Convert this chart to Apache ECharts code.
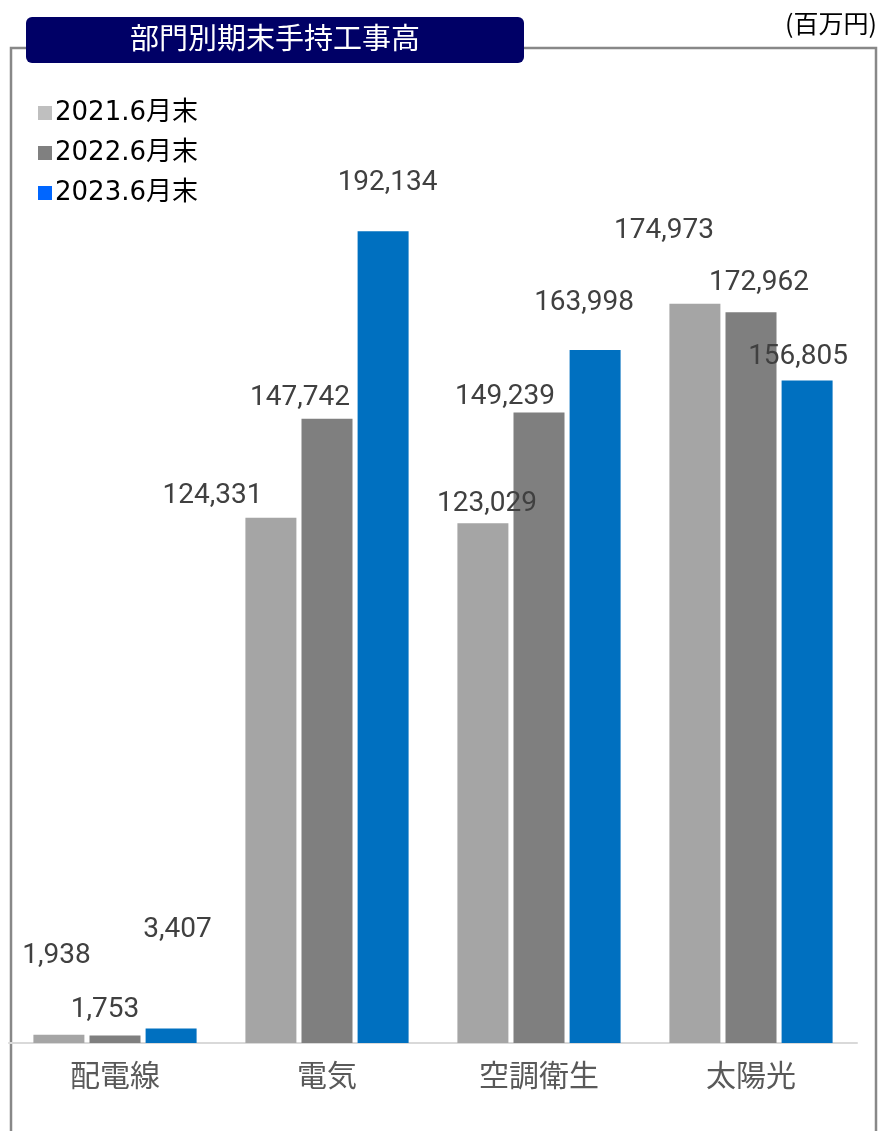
<!DOCTYPE html>
<html>
<head>
<meta charset="utf-8">
<script src="https://cdn.jsdelivr.net/npm/echarts@6/dist/echarts.min.js"></script>
<style>
html,body{margin:0;padding:0;background:#fff;}
#chart{width:881px;height:1131px;}
</style>
</head>
<body>
<div id="chart"></div>
<script>
// ---- data ----
const categories = ['配電線', '電気', '空調衛生', '太陽光'];
const seriesNames = ['2021.6月末', '2022.6月末', '2023.6月末'];
const values2021 = [1938, 124331, 123029, 174973];
const values2022 = [1753, 147742, 149239, 172962];
const values2023 = [3407, 192134, 163998, 156805];
const titleText = '部門別期末手持工事高';
const unitText = '(百万円)';

// ---- style config (label placement as in reference) ----
const barColors = ['#a5a5a5', '#7f7f7f', '#0070c0'];
const legendColors = ['#bfbfbf', '#808080', '#0066ff'];
const labelOffsets = [
  [[-2.5, -65], [-58.5, -8], [4, -5], [-31, -59]],
  [[-10, -12], [-27, -7], [-34, -1], [8, -15]],
  [[6.5, -85], [4.5, -34], [-11, -33], [-9, -9]]
];

const allValues = [values2021, values2022, values2023];
const chart = echarts.init(document.getElementById('chart'), null, {renderer: 'canvas'});

const series = allValues.map((vals, si) => ({
  name: seriesNames[si],
  type: 'bar',
  barWidth: 51,
  barGap: '10%',
  itemStyle: {color: barColors[si]},
  label: {
    show: true,
    position: 'top',
    distance: 0,
    color: '#404040',
    fontFamily: 'Roboto',
    fontSize: 28,
    formatter: p => p.value.toLocaleString('en-US')
  },
  data: vals.map((v, ci) => ({
    value: v,
    label: {offset: labelOffsets[si][ci]}
  })),
  z: 3
}));

chart.setOption({
  backgroundColor: '#ffffff',
  animation: false,
  grid: {left: 9, right: 24, top: 198, bottom: 88, containLabel: false},
  legend: {
    orient: 'vertical',
    left: 33,
    top: 95,
    itemWidth: 14,
    itemHeight: 14,
    itemGap: 14,
    icon: 'rect',
    textStyle: {
      fontFamily: '"DejaVu Sans", "Noto Sans CJK JP", sans-serif',
      fontSize: 26,
      color: '#000000',
      padding: [0, 0, 0, -2]
    },
    data: seriesNames.map((n, i) => ({name: n, itemStyle: {color: legendColors[i]}}))
  },
  xAxis: {
    type: 'category',
    data: categories,
    axisLine: {show: true, lineStyle: {color: '#d9d9d9', width: 2}},
    axisTick: {show: false},
    axisLabel: {
      color: '#595959',
      fontFamily: '"Noto Sans CJK JP", sans-serif',
      fontSize: 30,
      margin: 17
    }
  },
  yAxis: {
    type: 'value',
    min: 0,
    max: 200000,
    show: false,
    splitLine: {show: false}
  },
  graphic: [
    {
      type: 'rect',
      z: 0,
      shape: {x: 11, y: 48, width: 865, height: 1120},
      style: {fill: 'none', stroke: '#888888', lineWidth: 2.5}
    },
    {
      type: 'rect',
      z: 10,
      shape: {x: 26, y: 17, width: 498, height: 46, r: 6},
      style: {fill: '#000066'}
    },
    {
      type: 'text',
      z: 11,
      x: 275,
      y: 38,
      style: {
        text: titleText,
        fill: '#ffffff',
        font: '29px "Noto Sans CJK JP", sans-serif',
        align: 'center',
        verticalAlign: 'middle'
      }
    },
    {
      type: 'text',
      z: 11,
      x: 877,
      y: 23,
      style: {
        text: unitText,
        fill: '#000000',
        font: '25px "Noto Sans CJK JP", sans-serif',
        align: 'right',
        verticalAlign: 'middle'
      }
    }
  ],
  series: series
});
</script>
</body>
</html>
